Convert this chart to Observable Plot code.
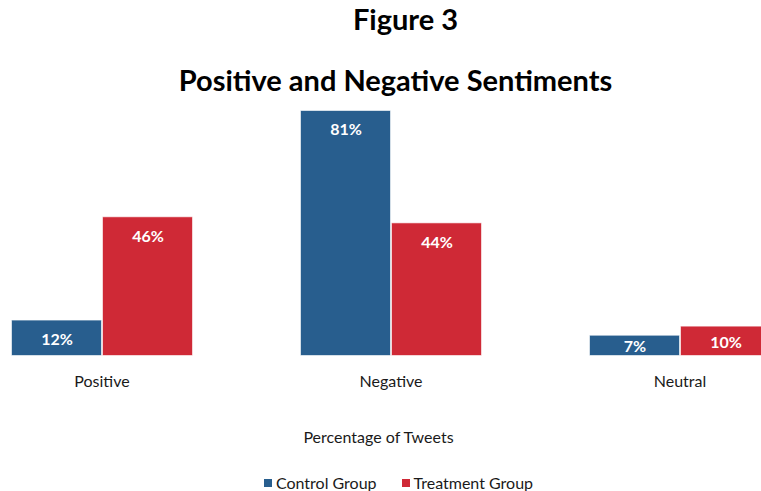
<!DOCTYPE html>
<html>
<head>
<meta charset="utf-8">
<script src="https://cdn.jsdelivr.net/npm/d3@7"></script>
<script src="https://cdn.jsdelivr.net/npm/@observablehq/plot@0.6"></script>
<style>
  body { margin: 0; background: #fff; font-family: Lato, "Open Sans", sans-serif; color: #1a1a1a; }
  #wrap { position: relative; width: 761px; height: 491px; overflow: hidden; background: #fff; }
  .title { position: absolute; width: 761px; text-align: center; font-weight: 700; font-size: 29px; line-height: 34px; color: #000; white-space: nowrap; }
  #chart { position: absolute; left: 0; top: 100px; }
  #axis-title { position: absolute; left: -2px; top: 427px; width: 761px; text-align: center; font-size: 16px; line-height: 20px; }
  #legend { position: absolute; left: 18px; top: 473px; width: 761px; display: flex; justify-content: center; font-size: 16px; line-height: 20px; }
  #legend .item { display: flex; align-items: center; }
  #legend .item + .item { margin-left: 25px; }
  #legend .swatch { width: 8px; height: 8px; margin-right: 4px; }
</style>
</head>
<body>
<div id="wrap">
  <div class="title" id="fig" style="left:25px; top:2px;"></div>
  <div class="title" id="sub" style="left:15px; top:63px;"></div>
  <div id="chart"></div>
  <div id="axis-title"></div>
  <div id="legend"></div>
</div>
<script>
// Share of tweets (%) by sentiment for each study group
const categories = ["Positive", "Negative", "Neutral"];
const groups = ["Control Group", "Treatment Group"];
const controlValues = [12, 81, 7];
const treatmentValues = [46, 44, 10];
const colors = ["#285e8e", "#cf2936"];
const figureLabel = "Figure 3";
const chartTitle = "Positive and Negative Sentiments";
const axisTitle = "Percentage of Tweets";

const rows = categories.flatMap((c, i) => [
  {category: c, group: groups[0], value: controlValues[i]},
  {category: c, group: groups[1], value: treatmentValues[i]}
]);

document.getElementById("fig").textContent = figureLabel;
document.getElementById("sub").textContent = chartTitle;
document.getElementById("axis-title").textContent = axisTitle;

const chart = Plot.plot({
  width: 761,
  height: 300,
  marginTop: 10,
  marginBottom: 44,
  marginLeft: 0,
  marginRight: 0,
  style: {fontFamily: "Lato, 'Open Sans', sans-serif", fontSize: "16px", color: "#1a1a1a", background: "transparent"},
  fx: {domain: categories, range: [9, 771], paddingInner: 0.3668, paddingOuter: 0, axis: "bottom", label: null, tickSize: 0, tickPadding: 19},
  x: {domain: groups, padding: 0, axis: null},
  y: {domain: [0, 81], axis: null},
  color: {domain: groups, range: colors},
  marks: [
    Plot.barY(rows, {fx: "category", x: "group", y: "value", fill: "group", stroke: "#ffffff", strokeOpacity: 0.6, strokeWidth: 1, inset: 0.5}),
    // value labels sit just inside the bar top, dropping to mid-bar on short bars
    Plot.text(rows, {
      fx: "category", x: "group",
      y: d => Math.max(d.value - 6.5, d.value * 0.45),
      text: d => `${d.value}%`,
      fill: "white", fontWeight: "bold", fontSize: 16
    })
  ]
});
document.getElementById("chart").append(chart);

// legend built from the same groups and colours
const legend = d3.select("#legend");
groups.forEach((g, i) => {
  const item = legend.append("div").attr("class", "item");
  item.append("div").attr("class", "swatch").style("background", colors[i]);
  item.append("span").text(g);
});
</script>
</body>
</html>
